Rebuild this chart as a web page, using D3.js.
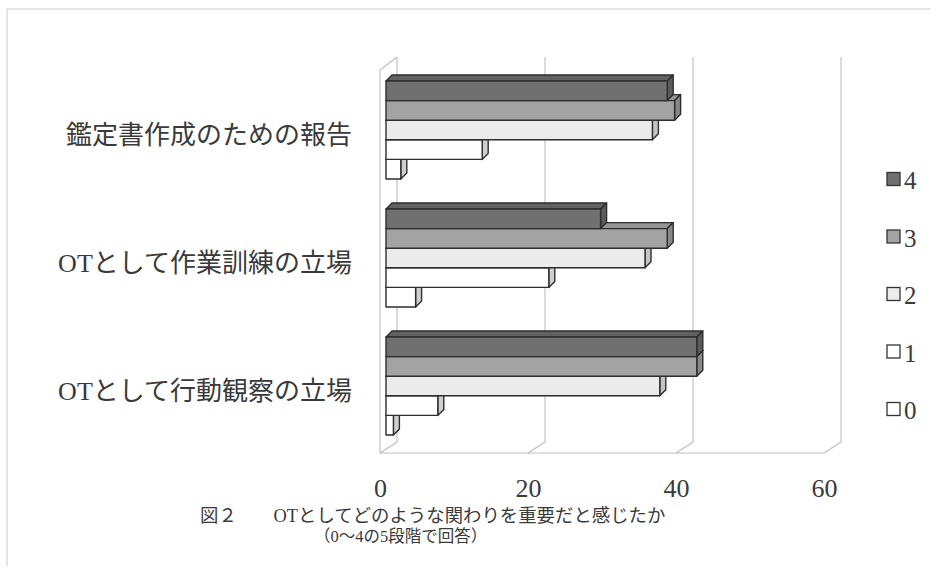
<!DOCTYPE html>
<html>
<head>
<meta charset="utf-8">
<script src="https://cdn.jsdelivr.net/npm/d3@7"></script>
<style>
  html, body { margin: 0; padding: 0; background: #fff; }
  svg { display: block; }
</style>
</head>
<body>
<svg id="chart" width="937" height="574"></svg>
<script>
// Categories, top to bottom
const categories = ["鑑定書作成のための報告", "OTとして作業訓練の立場", "OTとして行動観察の立場"];
// Rating levels (legend order, top to bottom)
const seriesNames = ["4", "3", "2", "1", "0"];
// Number of respondents per rating, one value per category
const values4 = [38, 29, 42];
const values3 = [39, 38, 42];
const values2 = [36, 35, 37];
const values1 = [13, 22, 7];
const values0 = [2, 4, 1];
const xTicks = [0, 20, 40, 60];
const captionLine1 = "図２　　OTとしてどのような関わりを重要だと感じたか";
const captionLine2 = "（0〜4の5段階で回答）";

const seriesValues = [values4, values3, values2, values1, values0];
const frontFill = { "4": "#707070", "3": "#a3a3a3", "2": "#ebebeb", "1": "#ffffff", "0": "#ffffff" };
const sideFill  = { "4": "#5a5a5a", "3": "#888888", "2": "#c4c4c4", "1": "#cfcfcf", "0": "#cfcfcf" };
const topFill   = { "4": "#626262", "3": "#969696", "2": "#d8d8d8", "1": "#e8e8e8", "0": "#e8e8e8" };

const svg = d3.select("#chart");
const latin = "'Liberation Serif', 'Noto Sans CJK JP', serif";
const textColor = "#3a3a3a";

// Outer frame (top and left edges)
svg.append("path")
  .attr("d", "M7,566 L7,9 L930,9")
  .attr("fill", "none").attr("stroke", "#c8c8c8").attr("stroke-width", 1);

// Scales: front plane of the floor, with depth offsets for back wall and bars
const x = d3.scaleLinear().domain([0, 60]).range([380, 824]);
const wallDx = 17, wallDy = -11;          // full depth of the plot box
const barOff = 6;                          // bar front face sits this far into the box
const barDepth = 6;                        // bar thickness in depth
const floorY = 453, wallTopFront = 70;

const y = d3.scaleBand().domain(categories).range([66, 450])
  .paddingInner(0.234).paddingOuter(0.117);
const ys = d3.scaleBand().domain(seriesNames).range([0, y.bandwidth()]);

// Walls and gridlines
const grid = svg.append("g").attr("fill", "none").attr("stroke", "#bdbdbd").attr("stroke-width", 1.1);
xTicks.forEach(t => {
  const fx = x(t), bx = x(t) + wallDx;
  grid.append("line").attr("x1", bx).attr("x2", bx)
    .attr("y1", wallTopFront + wallDy - 2).attr("y2", floorY + wallDy);
  grid.append("line").attr("x1", fx).attr("y1", floorY).attr("x2", bx).attr("y2", floorY + wallDy);
});
grid.append("line").attr("x1", x(0)).attr("x2", x(60)).attr("y1", floorY).attr("y2", floorY);
grid.append("path").attr("d",
  `M${x(0)},${floorY} L${x(0)},${wallTopFront} L${x(0) + wallDx},${wallTopFront + wallDy - 2}`);

// 3D bars: draw lowest rating first so upper bars overlap correctly
const bars = svg.append("g")
  .attr("stroke", "#2e2e2e").attr("stroke-width", 1.4).attr("stroke-linejoin", "round");

categories.forEach((cat, ci) => {
  for (let si = seriesNames.length - 1; si >= 0; si--) {
    const s = seriesNames[si];
    const v = seriesValues[si][ci];
    const x0 = x(0) + barOff, x1 = x(v) + barOff;
    const y0 = y(cat) + ys(s), h = ys.bandwidth();
    const d = barDepth;
    const g = bars.append("g");
    // top face
    g.append("path").attr("fill", topFill[s])
      .attr("d", `M${x0},${y0} L${x0 + d},${y0 - d} L${x1 + d},${y0 - d} L${x1},${y0} Z`);
    // end face
    g.append("path").attr("fill", sideFill[s])
      .attr("d", `M${x1},${y0} L${x1 + d},${y0 - d} L${x1 + d},${y0 + h - d} L${x1},${y0 + h} Z`);
    // front face
    g.append("rect").attr("fill", frontFill[s])
      .attr("x", x0).attr("y", y0).attr("width", x1 - x0).attr("height", h);
  }
});

// Category labels
svg.append("g").selectAll("text").data(categories).join("text")
  .attr("x", 352)
  .attr("y", d => y(d) + y.bandwidth() / 2 + 5)
  .attr("dy", "0.36em")
  .attr("text-anchor", "end")
  .attr("font-family", latin)
  .attr("font-size", 26)
  .attr("fill", textColor)
  .text(d => d);

// Value axis labels
const axis = d3.axisBottom(x).tickValues(xTicks).tickSize(0).tickPadding(0).tickFormat(d3.format("d"));
const axisG = svg.append("g").attr("transform", `translate(0,${floorY + 26})`).call(axis);
axisG.select(".domain").remove();
axisG.selectAll("text")
  .attr("font-family", latin).attr("font-size", 26).attr("fill", textColor);

// Legend
const legend = svg.append("g").attr("transform", "translate(887,179)");
seriesNames.forEach((s, i) => {
  const row = legend.append("g").attr("transform", `translate(0,${i * 57.5})`);
  row.append("rect").attr("x", 0).attr("y", -6.5).attr("width", 13).attr("height", 13)
    .attr("fill", frontFill[s]).attr("stroke", "#333").attr("stroke-width", 1.3);
  row.append("text").attr("x", 17).attr("y", 1).attr("dy", "0.36em")
    .attr("font-family", latin).attr("font-size", 25).attr("fill", textColor).text(s);
});

// Caption
svg.append("text").attr("x", 200).attr("y", 522)
  .attr("font-family", latin).attr("font-size", 18.4).attr("fill", textColor).text(captionLine1);
svg.append("text").attr("x", 314).attr("y", 542)
  .attr("font-family", latin).attr("font-size", 16.5).attr("fill", textColor).text(captionLine2);
</script>
</body>
</html>
